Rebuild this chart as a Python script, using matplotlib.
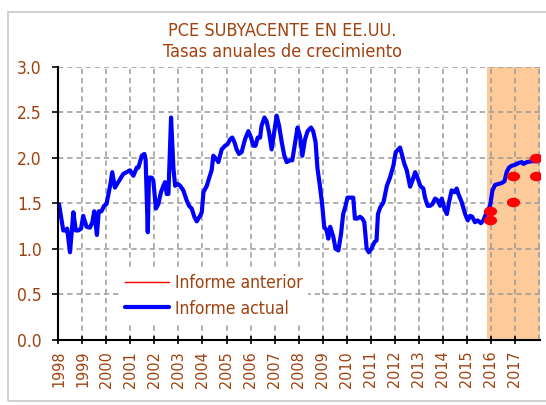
import matplotlib
matplotlib.use('Agg')
import matplotlib.pyplot as plt
from matplotlib import font_manager
from matplotlib.font_manager import FontProperties
from matplotlib.path import Path
from matplotlib.patches import Rectangle
import numpy as np

# ---------------- data ----------------
title_lines = ["PCE SUBYACENTE EN EE.UU.", "Tasas anuales de crecimiento"]
legend_labels = ["Informe anterior", "Informe actual"]
year_ticks = list(range(1998, 2018))
y_ticks = [0.0, 0.5, 1.0, 1.5, 2.0, 2.5, 3.0]
forecast_start = 2015.87
forecast_end = 2018.06

actual_x = [1998.02, 1998.20, 1998.30, 1998.36, 1998.48, 1998.62, 1998.72, 1998.83, 1998.94,
            1999.03, 1999.17, 1999.31, 1999.41, 1999.49, 1999.60, 1999.68, 1999.79, 1999.90,
            2000.00, 2000.15, 2000.24, 2000.35, 2000.49, 2000.70, 2000.84, 2000.98,
            2001.12, 2001.26, 2001.33, 2001.47, 2001.58, 2001.63, 2001.72, 2001.77, 2001.88, 2001.95,
            2002.06, 2002.16, 2002.27, 2002.37, 2002.44, 2002.51, 2002.58, 2002.69, 2002.79, 2002.86, 2002.97,
            2003.07, 2003.20, 2003.34, 2003.44, 2003.55, 2003.66, 2003.76, 2003.90, 2003.97,
            2004.04, 2004.18, 2004.27, 2004.38, 2004.45, 2004.59, 2004.66, 2004.80, 2004.94,
            2005.05, 2005.15, 2005.24, 2005.33, 2005.42, 2005.52, 2005.63, 2005.77, 2005.91,
            2006.02, 2006.12, 2006.21, 2006.30, 2006.40, 2006.46, 2006.58, 2006.67, 2006.77, 2006.88, 2006.99,
            2007.09, 2007.19, 2007.30, 2007.41, 2007.51, 2007.65, 2007.74, 2007.85, 2007.96,
            2008.06, 2008.16, 2008.27, 2008.38, 2008.52, 2008.61, 2008.71, 2008.79, 2008.89, 2008.99,
            2009.07, 2009.17, 2009.24, 2009.32, 2009.45, 2009.54, 2009.66, 2009.77, 2009.86, 2009.96,
            2010.04, 2010.18, 2010.28, 2010.35, 2010.46, 2010.56, 2010.66, 2010.74, 2010.84, 2010.93,
            2011.04, 2011.16, 2011.25, 2011.31, 2011.40, 2011.54, 2011.68, 2011.81, 2011.95,
            2012.05, 2012.16, 2012.23, 2012.30, 2012.41, 2012.51, 2012.65, 2012.75, 2012.86, 2012.97,
            2013.07, 2013.20, 2013.27, 2013.38, 2013.48, 2013.58, 2013.69, 2013.80, 2013.90, 2013.97,
            2014.08, 2014.18, 2014.27, 2014.38, 2014.50, 2014.59, 2014.66, 2014.80, 2014.94,
            2015.05, 2015.15, 2015.24, 2015.35, 2015.46, 2015.60, 2015.70, 2015.84, 2015.98,
            2016.08, 2016.19, 2016.33, 2016.46, 2016.58, 2016.67, 2016.77, 2016.88,
            2017.02, 2017.16, 2017.30, 2017.37, 2017.51, 2017.71, 2017.99]
actual_y = [1.49, 1.20, 1.20, 1.22, 0.96, 1.40, 1.20, 1.20, 1.22,
            1.36, 1.24, 1.23, 1.29, 1.41, 1.15, 1.41, 1.41, 1.47,
            1.49, 1.69, 1.84, 1.67, 1.73, 1.82, 1.84, 1.86,
            1.80, 1.89, 1.89, 2.02, 2.04, 1.98, 1.18, 1.78, 1.78, 1.75,
            1.44, 1.49, 1.62, 1.69, 1.73, 1.60, 1.60, 2.44, 1.88, 1.69, 1.71,
            1.69, 1.64, 1.53, 1.47, 1.44, 1.35, 1.30, 1.36, 1.40,
            1.62, 1.69, 1.77, 1.86, 2.02, 1.98, 1.95, 2.09, 2.13,
            2.15, 2.20, 2.22, 2.17, 2.09, 2.04, 2.06, 2.20, 2.29,
            2.22, 2.13, 2.13, 2.22, 2.22, 2.35, 2.44, 2.40, 2.28, 2.09, 2.28,
            2.46, 2.35, 2.17, 2.02, 1.95, 1.97, 1.97, 2.15, 2.33,
            2.24, 2.02, 2.20, 2.29, 2.33, 2.29, 2.17, 1.88, 1.69, 1.47,
            1.24, 1.20, 1.11, 1.24, 1.13, 1.00, 0.98, 1.16, 1.38, 1.47,
            1.56, 1.56, 1.56, 1.33, 1.33, 1.35, 1.33, 1.29, 1.00, 0.96,
            1.00, 1.07, 1.09, 1.38, 1.45, 1.51, 1.69, 1.78, 1.91,
            2.06, 2.09, 2.11, 2.04, 1.93, 1.86, 1.68, 1.75, 1.84, 1.77,
            1.69, 1.66, 1.56, 1.47, 1.47, 1.49, 1.55, 1.53, 1.47, 1.55,
            1.44, 1.38, 1.51, 1.64, 1.62, 1.66, 1.60, 1.51, 1.38,
            1.31, 1.36, 1.35, 1.29, 1.31, 1.28, 1.31, 1.40, 1.47,
            1.64, 1.70, 1.71, 1.72, 1.74, 1.84, 1.89, 1.91,
            1.92, 1.94, 1.95, 1.93, 1.95, 1.96, 1.96]

# previous report: forecast range points (low / high per year)
prev_x = [2015.98, 2015.98, 2016.92, 2016.92, 2017.90, 2017.90]
prev_y = [1.32, 1.41, 1.51, 1.80, 1.80, 2.00]

# ---------------- style ----------------
TXT = '#A0420F'
BLUE = '#0000FF'
RED = '#FF0000'
PEACH = '#FDCB9A'
GRID = '#9A9A9A'

def pick_font():
    entries = font_manager.fontManager.ttflist
    for key in ['DejaVuSansCondensed.ttf', 'LiberationSansNarrow-Regular.ttf']:
        for e in entries:
            if e.fname.endswith(key):
                return e.fname
    return None

fpath = pick_font()

def fp(size):
    if fpath:
        return FontProperties(fname=fpath, size=size)
    return FontProperties(family='DejaVu Sans', size=size)

fig = plt.figure(figsize=(5.46, 4.05), dpi=100)
fig.patch.set_facecolor('white')

# chart frame
fig.patches.append(Rectangle((8 / 546, 4 / 405), 540 / 546, 389 / 405,
                             transform=fig.transFigure, fill=False,
                             edgecolor='#C8C8C8', linewidth=1.2, zorder=0))

ax = fig.add_axes([0.1071, 0.1612, 0.8819, 0.6746])

ax.axvspan(forecast_start, forecast_end, color=PEACH, zorder=0, lw=0)

ax.plot(actual_x, actual_y, color=RED, lw=1.0, zorder=3, label=legend_labels[0])
ax.plot(actual_x, actual_y, color=BLUE, lw=3.0, zorder=4, label=legend_labels[1],
        solid_joinstyle='round', solid_capstyle='round')

# ellipse markers for previous report
circ = Path.unit_circle()
ell = Path(circ.vertices * np.array([1.45, 1.0]), circ.codes)
ax.plot(prev_x, prev_y, linestyle='none', marker=ell, markersize=8.5,
        color=RED, zorder=5)

ax.set_xlim(1998, forecast_end)
ax.set_ylim(0, 3)
ax.set_xticks(year_ticks)
ax.set_yticks(y_ticks)
ax.set_xticklabels([str(y) for y in year_ticks], rotation=90)
ax.set_yticklabels([f"{v:.1f}" for v in y_ticks])

ax.set_axisbelow(False)
ax.grid(True, color=GRID, linestyle=(0, (3.5, 2.5)), linewidth=1.1, zorder=1)
ax.axvline(2018, color=GRID, linestyle=(0, (3.5, 2.5)), linewidth=1.1, zorder=1)
for gl in ax.get_xgridlines() + ax.get_ygridlines():
    gl.set_zorder(1)

for s in ['top', 'right']:
    ax.spines[s].set_visible(False)
for s in ['left', 'bottom']:
    ax.spines[s].set_color('black')
    ax.spines[s].set_linewidth(1.5)
    ax.spines[s].set_zorder(6)

ax.tick_params(axis='x', direction='inout', length=6, width=1.2, color='black',
               pad=5, labelcolor=TXT)
ax.tick_params(axis='y', direction='out', length=4, width=1.2, color='black',
               pad=8, labelcolor=TXT)
for lbl in ax.get_xticklabels():
    lbl.set_fontproperties(fp(11.5))
for lbl in ax.get_yticklabels():
    lbl.set_fontproperties(fp(12.5))

leg = ax.legend(loc='lower left', bbox_to_anchor=(0.128, 0.062), borderaxespad=0,
                frameon=True, fancybox=False, framealpha=1, facecolor='white',
                edgecolor='none', prop=fp(12.5), handlelength=2.5,
                handletextpad=0.35, labelspacing=0.45, borderpad=0.3)
leg.set_zorder(7)
for t in leg.get_texts():
    t.set_color(TXT)

fig.text(0.517, 0.923, title_lines[0], ha='center', va='center', color=TXT,
         fontproperties=fp(13))
fig.text(0.517, 0.872, title_lines[1], ha='center', va='center', color=TXT,
         fontproperties=fp(13))

fig.savefig('out.png', dpi=100)
